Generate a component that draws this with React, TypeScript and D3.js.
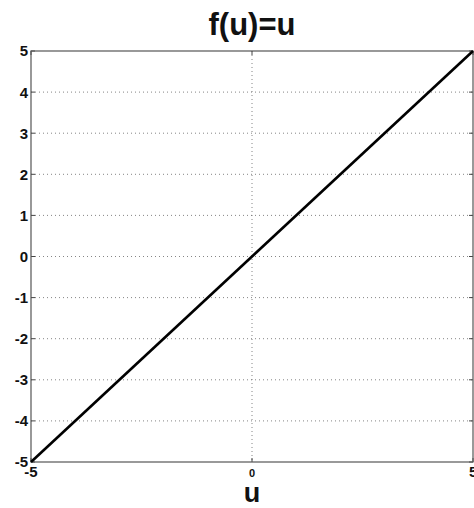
import React from "react";
import * as d3 from "d3";

const uValues = [-5, 5];
const fValues = [-5, 5];
const yTicks = [-5, -4, -3, -2, -1, 0, 1, 2, 3, 4, 5];
const xTicks = [-5, 0, 5];
const xGrid = [0];
const titleText = "f(u)=u";
const xLabel = "u";

export default function App() {
  const W = 474, H = 508;
  const left = 31, right = 473, top = 51, bottom = 462;
  const x = d3.scaleLinear().domain([-5, 5]).range([left, right]);
  const y = d3.scaleLinear().domain([-5, 5]).range([bottom, top]);
  const line = d3.line<number>().x((d, i) => x(uValues[i])).y((d) => y(d));
  const font = "Arial, 'Liberation Sans', Helvetica, sans-serif";
  return (
    <svg width={W} height={H} style={{ position: "absolute", left: 0, top: 0, background: "#fff" }}>
      <rect x={0} y={0} width={W} height={H} fill="#fff" />
      {yTicks.filter((t) => t !== -5 && t !== 5).map((t) => (
        <line key={"gy" + t} x1={left} x2={right} y1={y(t)} y2={y(t)} stroke="#666" strokeWidth={0.8} strokeDasharray="1,3" />
      ))}
      {xGrid.map((t) => (
        <line key={"gx" + t} x1={x(t)} x2={x(t)} y1={top} y2={bottom} stroke="#666" strokeWidth={0.8} strokeDasharray="1,3" />
      ))}
      {yTicks.map((t) => (
        <g key={"ty" + t}>
          <line x1={left} x2={left + 4} y1={y(t)} y2={y(t)} stroke="#444" strokeWidth={1} />
          <line x1={right - 4} x2={right} y1={y(t)} y2={y(t)} stroke="#444" strokeWidth={1} />
          <text x={left - 3} y={y(t)} dy="0.36em" textAnchor="end" fontFamily={font} fontWeight="bold" fontSize={15} fill="#111">
            {t}
          </text>
        </g>
      ))}
      {xTicks.map((t) => (
        <g key={"tx" + t}>
          <line x1={x(t)} x2={x(t)} y1={bottom} y2={bottom - 4} stroke="#444" strokeWidth={1} />
          <line x1={x(t)} x2={x(t)} y1={top} y2={top + 4} stroke="#444" strokeWidth={1} />
          <text x={x(t)} y={bottom + 15} textAnchor={t === 5 ? "start" : "middle"} dx={t === 5 ? -4 : 0} fontFamily={font} fontWeight="bold" fontSize={t === 0 ? 11 : 15} fill="#111">
            {t}
          </text>
        </g>
      ))}
      <rect x={left} y={top} width={right - left} height={bottom - top} fill="none" stroke="#555" strokeWidth={1.2} />
      <path d={line(fValues) || ""} fill="none" stroke="#000" strokeWidth={2.6} />
      <text x={(left + right) / 2} y={35} textAnchor="middle" fontFamily={font} fontWeight="bold" fontSize={31} fill="#111">
        {titleText}
      </text>
      <text x={(left + right) / 2} y={502} textAnchor="middle" fontFamily={font} fontWeight="bold" fontSize={27} fill="#111">
        {xLabel}
      </text>
    </svg>
  );
}
